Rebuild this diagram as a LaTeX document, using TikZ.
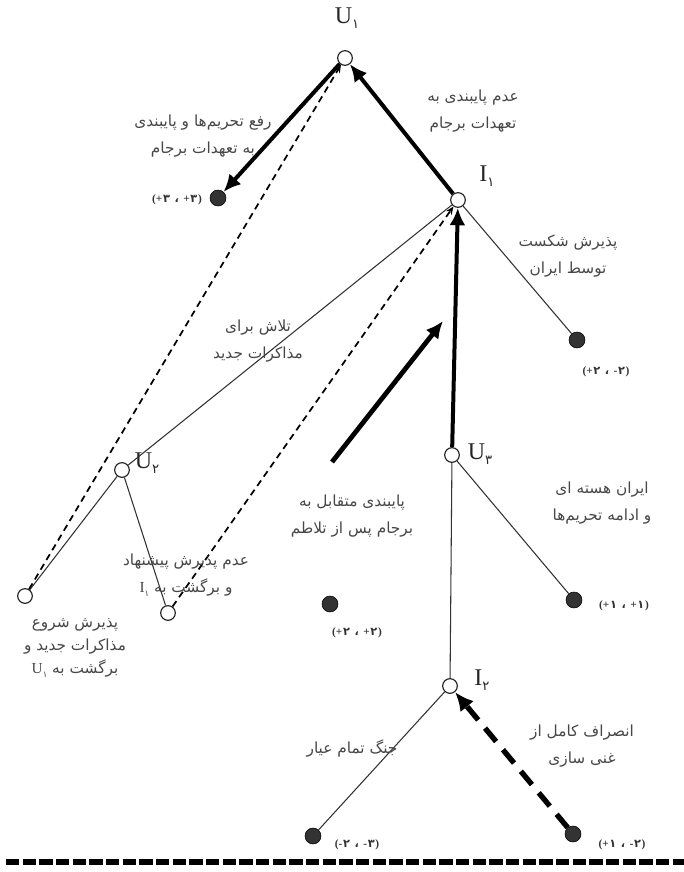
\documentclass[tikz,border=0pt]{standalone}
\usepackage{fontspec}
\setmainfont{Liberation Serif}
\newfontfamily\arabicfont[Script=Arabic]{DejaVu Sans}
\TeXXeTstate=1
\usetikzlibrary{arrows.meta}
\newcommand\fa[1]{{\arabicfont\beginR #1\endR}}
\newcommand\lsub[2]{{\rmfamily #1}\raisebox{-0.45ex}{\arabicfont\fontsize{0.55em}{1em}\selectfont #2}}
% payoff: (s1 d1 , s2 d2) built glyph by glyph, left to right
\newcommand\po[4]{\beginR\beginL{\rmfamily(#1}\kern0.5pt{\arabicfont #2}\hspace{0.4em}{\arabicfont ،}\hspace{0.4em}{\rmfamily #3}\kern0.5pt{\arabicfont #4}\kern0.5pt{\rmfamily)}\endL\endR}
\tikzset{
  dec/.style={circle,draw=black!85,line width=0.9pt,fill=white,minimum size=11pt,inner sep=0pt},
  leaf/.style={circle,draw=black,fill=black!80,minimum size=12pt,inner sep=0pt},
  branch/.style={line width=0.8pt,draw=black!80},
  bigarrow/.style={line width=3pt,-{Latex[length=13pt,width=12pt]}},
  dasharrow/.style={line width=1.3pt,dash pattern=on 5pt off 3.5pt,-{Stealth[length=6pt,width=5pt]}},
  fatdash/.style={line width=4pt,dash pattern=on 13pt off 8pt,-{Latex[length=14pt,width=13pt]}},
  txt/.style={font=\fontsize{11.5}{20}\selectfont,text=black!72,align=center,inner sep=0pt},
  pay/.style={font=\fontsize{8.5}{9}\selectfont\bfseries,text=black!80,inner sep=0pt},
  lbl/.style={font=\fontsize{18}{20}\selectfont,text=black!85,inner sep=0pt}
}
\begin{document}
\begin{tikzpicture}[x=0.75pt,y=-0.75pt]
\useasboundingbox (0,0) rectangle (684,872);
% decision nodes
\node[dec] (U1) at (345,58) {};
\node[dec] (I1) at (458,200) {};
\node[dec] (U2) at (122,470) {};
\node[dec] (U3) at (452,455) {};
\node[dec] (H1) at (25,596) {};
\node[dec] (H2) at (168,613) {};
\node[dec] (I2) at (450,686) {};
% leaves
\node[leaf] (L1) at (218,198) {};
\node[leaf] (L2) at (577,340) {};
\node[leaf] (L3) at (330,604) {};
\node[leaf] (L4) at (574,600) {};
\node[leaf] (L5) at (313,836) {};
\node[leaf] (L6) at (573,834) {};
% node labels
\node[lbl] (tU1) at (347,18) {\lsub{U}{۱}};
\node[lbl] (tI1) at (487,176) {\lsub{I}{۱}};
\node[lbl] (tU2) at (147,463) {\lsub{U}{۲}};
\node[lbl] (tU3) at (480,454) {\lsub{U}{۳}};
\node[lbl] (tI2) at (482,680) {\lsub{I}{۲}};
% plain branches
\draw[branch] (I1) -- (L2);
\draw[branch] (I1) -- (U2);
\draw[branch] (U2) -- (H1);
\draw[branch] (U2) -- (H2);
\draw[branch] (U3) -- (I2);
\draw[branch] (U3) -- (L4);
\draw[branch] (I2) -- (L5);
% bold arrows
\draw[bigarrow] (U1) -- (L1);
\draw[bigarrow] (I1) -- (U1);
\draw[bigarrow] (U3) -- (I1);
\coordinate (fa1) at (332,462);
\coordinate (fa2) at (443,321);
\draw[bigarrow,line width=3.6pt] (fa1) -- (fa2);
% dashed return arrows
\draw[dasharrow] (H1) -- (U1);
\draw[dasharrow] (H2) -- (I1);
\draw[fatdash] (L6) -- (I2);
% bottom rule
\coordinate (b1) at (6,862);
\coordinate (b2) at (684,862);
\draw[line width=4pt,dash pattern=on 10pt off 2.5pt] (b1) -- (b2);
% texts
\node[txt] (t1) at (203,136) {\fa{رفع تحریم‌ها و پایبندی}\\\fa{به تعهدات برجام}};
\node[txt] (t2) at (473,111) {\fa{عدم پایبندی به}\\\fa{تعهدات برجام}};
\node[txt] (t3) at (568,256) {\fa{پذیرش شکست}\\\fa{توسط ایران}};
\node[txt] (t4) at (258,341) {\fa{تلاش برای}\\\fa{مذاکرات جدید}};
\node[txt] (t5) at (352,516) {\fa{پایبندی متقابل به}\\\fa{برجام پس از تلاطم}};
\node[txt] (t6) at (602,503) {\fa{ایران هسته ای}\\\fa{و ادامه تحریم‌ها}};
\node[txt] (t7) at (186,575) {\fa{عدم پذیرش پیشنهاد}\\{\arabicfont\beginR و برگشت به \beginL\lsub{I}{۱}\endL\endR}};
\node[txt,font=\fontsize{11.5}{17}\selectfont] (t8) at (75,648) {\fa{پذیرش شروع}\\\fa{مذاکرات جدید و}\\{\arabicfont\beginR برگشت به \beginL\lsub{U}{۱}\endL\endR}};
\node[txt] (t9) at (352,748) {\fa{جنگ تمام عیار}};
\node[txt] (t10) at (582,746) {\fa{انصراف کامل از}\\\fa{غنی سازی}};
% payoffs
\node[pay] (p1) at (177,200) {\po{+}{۳}{+}{۳}};
\node[pay] (p2) at (606,372) {\po{+}{۲}{-}{۲}};
\node[pay] (p3) at (357,633) {\po{+}{۲}{+}{۲}};
\node[pay] (p4) at (624,606) {\po{+}{۱}{+}{۱}};
\node[pay] (p5) at (357,845) {\po{-}{۲}{-}{۳}};
\node[pay] (p6) at (622,845) {\po{+}{۱}{-}{۲}};
\end{tikzpicture}
\end{document}
